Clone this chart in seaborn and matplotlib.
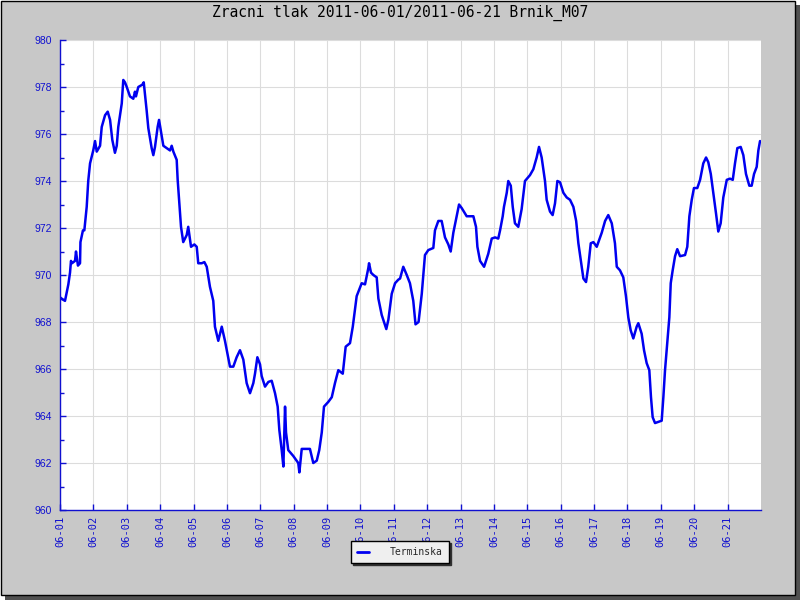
import numpy as np
import pandas as pd
import matplotlib
matplotlib.use("Agg")
import matplotlib.pyplot as plt
import matplotlib.dates as mdates
from matplotlib.patches import Rectangle
from matplotlib.ticker import MultipleLocator
import seaborn as sns

title = "Zracni tlak 2011-06-01/2011-06-21 Brnik_M07"
series_name = "Terminska"
start = "2011-06-01"
end = "2011-06-22"

# hours since 2011-06-01 00:00
hours = [0, 2.2, 3.6, 6.0, 7.2, 7.9, 8.6, 10.8, 11.5, 12.9, 14.4, 14.7, 16.5, 17.5,
         19.2, 20.3, 21.6, 23.9, 25.2, 26.4, 28.8, 30.0, 32.4, 34.3, 36.0, 37.6,
         39.5, 40.8, 41.9, 44.4, 45.5, 46.7, 48.0, 50.3, 52.7, 53.9, 54.6, 56.3,
         59.2, 60.2, 61.1, 62.3, 63.5, 65.9, 67.1, 68.3, 70.2, 71.2, 72.6, 74.3,
         76.7, 79.1, 80.3, 81.5, 83.9, 84.6, 85.6, 87.0, 88.6, 91.1, 92.2, 94.2,
         96.6, 98.3, 99.4, 101.9, 103.8, 105.5, 107.8, 110.2, 111.4, 113.8, 116.3,
         118.6, 122.2, 124.6, 127.0, 129.4, 131.8, 134.2, 136.6, 139.0, 140.2,
         141.9, 143.8, 145.0, 147.4, 149.8, 152.2, 154.6, 156.5, 157.7, 159.4,
         160.6, 161.8, 162.5, 164.1, 167.7, 171.3, 172.1, 173.8, 177.4, 179.7,
         182.1, 184.6, 186.4, 188.2, 189.8, 192.9, 195.4, 197.7, 200.1, 203.3,
         205.4, 208.5, 210.5, 213.3, 216.9, 219.3, 221.7, 222.2, 223.6, 225.3,
         227.7, 228.9, 231.3, 234.6, 236.1, 238.5, 240.9, 243.2, 244.5, 246.8,
         249.3, 251.6, 254.0, 255.6, 257.8, 260.1, 262.4, 264.8, 268.4, 269.6,
         272.0, 274.4, 276.8, 279.2, 280.9, 282.8, 285.2, 286.9, 288.8, 292.4,
         294.8, 297.2, 299.1, 300.1, 302.0, 304.9, 307.9, 310.4, 312.8, 315.1,
         316.4, 318.3, 319.2, 321.2, 322.3, 324.1, 325.5, 327.1, 329.5, 331.9,
         334.3, 337.9, 340.3, 342.7, 344.4, 346.3, 348.7, 349.9, 352.3, 354.2,
         355.9, 357.6, 359.5, 361.9, 364.3, 366.7, 369.1, 371.1, 372.7, 374.4,
         376.3, 378.2, 379.8, 381.6, 383.5, 385.9, 389.5, 391.9, 394.2, 396.7,
         399.0, 400.3, 402.6, 405.0, 406.9, 408.6, 410.3, 412.2, 414.6, 415.8,
         418.2, 419.9, 421.8, 423.7, 424.9, 426.1, 427.8, 430.2, 432.6, 433.8,
         435.0, 436.6, 438.1, 439.1, 440.5, 442.2, 443.8, 445.8, 449.4, 451.0,
         452.5, 454.2, 455.8, 458.2, 460.2, 462.5, 464.5, 466.1, 467.9, 469.7,
         471.7, 473.3, 475.0, 476.9, 479.4, 481.7, 483.7, 485.3, 487.0, 489.4,
         491.3, 493.2, 495.6, 497.3, 499.0, 500.9, 502.1, 503.3]

pressure = [969.05, 968.95, 968.9, 969.6, 970.1, 970.6, 970.5, 970.6, 971.0, 970.4,
            970.5, 971.4, 971.9, 971.9, 972.9, 974.0, 974.75, 975.3, 975.7, 975.25,
            975.5, 976.3, 976.8, 976.95, 976.6, 975.75, 975.2, 975.5, 976.3, 977.3,
            978.3, 978.2, 978.0, 977.6, 977.5, 977.8, 977.6, 978.0, 978.1, 978.2,
            977.7, 977.0, 976.25, 975.4, 975.1, 975.45, 976.3, 976.6, 976.1, 975.5,
            975.4, 975.3, 975.5, 975.25, 974.9, 974.05, 973.2, 972.05, 971.4, 971.7,
            972.05, 971.2, 971.3, 971.2, 970.5, 970.5, 970.55, 970.35, 969.5, 968.9,
            967.8, 967.2, 967.8, 967.2, 966.1, 966.1, 966.5, 966.8, 966.4, 965.4,
            964.97, 965.4, 965.8, 966.5, 966.2, 965.7, 965.25, 965.45, 965.5, 964.97,
            964.4, 963.4, 962.55, 961.85, 964.4, 963.3, 962.55, 962.3, 962.0, 961.6,
            962.6, 962.6, 962.6, 962.0, 962.1, 962.55, 963.3, 964.4, 964.6, 964.8,
            965.4, 965.95, 965.8, 966.95, 967.1, 967.8, 969.1, 969.65, 969.6, 970.3,
            970.5, 970.1, 970.0, 969.9, 969.0, 968.3, 967.7, 968.1, 969.2, 969.65,
            969.8, 969.85, 970.35, 970.0, 969.65, 968.9, 967.9, 968.0, 969.2, 970.85,
            971.06, 971.15, 971.9, 972.3, 972.3, 971.6, 971.3, 971.0, 971.8, 972.5,
            973.0, 972.85, 972.5, 972.5, 972.5, 972.05, 971.2, 970.6, 970.35, 970.9,
            971.55, 971.6, 971.55, 971.9, 972.5, 972.9, 973.5, 974.0, 973.8, 972.9,
            972.2, 972.05, 972.8, 974.0, 974.25, 974.5, 975.0, 975.45, 975.0, 974.0,
            973.2, 972.7, 972.55, 973.05, 974.0, 973.95, 973.5, 973.3, 973.2, 972.9,
            972.3, 971.35, 970.65, 969.85, 969.7, 970.35, 971.35, 971.4, 971.2, 971.8,
            972.3, 972.55, 972.2, 971.35, 970.35, 970.2, 969.9, 969.1, 968.2, 967.65,
            967.3, 967.8, 967.95, 967.5, 966.8, 966.25, 965.95, 964.8, 963.95, 963.7,
            963.75, 963.8, 964.8, 965.95, 967.1, 968.2, 969.65, 970.2, 970.8, 971.1,
            970.8, 970.85, 971.2, 972.5, 973.2, 973.7, 973.7, 974.05, 974.75, 975.0,
            974.8, 974.3, 973.5, 972.6, 971.85, 972.2, 973.3, 974.05, 974.1, 974.05,
            974.75, 975.4, 975.45, 975.1, 974.3, 973.8, 973.8, 974.3, 974.6, 975.3,
            975.7]

y_ticks = [960, 962, 964, 966, 968, 970, 972, 974, 976, 978, 980]

sns.set_theme(style="white")

df = pd.DataFrame({
    "time": pd.Timestamp(start) + pd.to_timedelta(hours, unit="h"),
    "pressure": pressure,
})

BLUE = "#0000F0"
AXBLUE = "#1010D0"

fig = plt.figure(figsize=(8, 6), dpi=100)
fig.patch.set_facecolor("white")
# drop shadow and gray panel
fig.add_artist(Rectangle((5 / 800, 0), 795 / 800, 595 / 600, transform=fig.transFigure,
                         facecolor="#505050", edgecolor="none", zorder=-5))
fig.add_artist(Rectangle((0.5 / 800, 5 / 600), 794 / 800, 594.5 / 600, transform=fig.transFigure,
                         facecolor="#C8C8C8", edgecolor="black", linewidth=1.0, zorder=-4))

ax = fig.add_axes([60 / 800, 1 - 510 / 600, 701 / 800, 470 / 600])
ax.set_facecolor("white")

sns.lineplot(data=df, x="time", y="pressure", ax=ax, color=BLUE, linewidth=1.8,
             label=series_name, legend=False)

ax.set_xlim(pd.Timestamp(start), pd.Timestamp(end))
ax.set_ylim(960, 980)
ax.set_yticks(y_ticks)
ax.yaxis.set_minor_locator(MultipleLocator(1))
ticks = pd.date_range(start, "2011-06-21", freq="D")
ax.set_xticks(ticks)
ax.set_xticklabels([t.strftime("%m-%d") for t in ticks])

ax.grid(True, which="major", color="#DCDCDC", linewidth=0.8)
ax.set_axisbelow(True)
for s in ["top", "right"]:
    ax.spines[s].set_visible(False)
for s in ["left", "bottom"]:
    ax.spines[s].set_color(AXBLUE)
    ax.spines[s].set_linewidth(1.0)

ax.tick_params(axis="y", which="major", direction="in", length=4, width=1, color=AXBLUE,
               labelcolor=AXBLUE, labelsize=7.5, pad=6, left=True)
ax.tick_params(axis="y", which="minor", direction="in", length=3, width=1, color=AXBLUE, left=True)
ax.tick_params(axis="x", which="major", direction="in", length=4, width=1, color=AXBLUE,
               labelcolor=AXBLUE, labelsize=7.5, pad=4, bottom=True)
for lab in ax.get_yticklabels():
    lab.set_fontfamily(["Liberation Sans", "DejaVu Sans"])
for lab in ax.get_xticklabels():
    lab.set_fontfamily(["DejaVu Sans Mono"])
    lab.set_rotation(90)

ax.set_xlabel("")
ax.set_ylabel("")

fig.text(0.5, 1 - 13 / 600, title, ha="center", va="center",
         fontsize=10.5, family="DejaVu Sans Mono", color="black")

handles, labels = ax.get_legend_handles_labels()
leg = fig.legend(handles, labels, loc="center", bbox_to_anchor=(400 / 800, 1 - 552 / 600),
                 frameon=True, fancybox=False, edgecolor="black", facecolor="#EFEFEF",
                 framealpha=1, prop={"family": "DejaVu Sans Mono", "size": 7},
                 handlelength=1.2, handletextpad=2.2, borderpad=0.6, borderaxespad=0,
                 shadow={"ox": 1.5, "oy": -1.5, "color": "#303030", "alpha": 1})
leg.get_frame().set_linewidth(1.0)
for l in leg.get_lines():
    l.set_linewidth(2)

fig.savefig("out.png", dpi=100, facecolor=fig.get_facecolor())
